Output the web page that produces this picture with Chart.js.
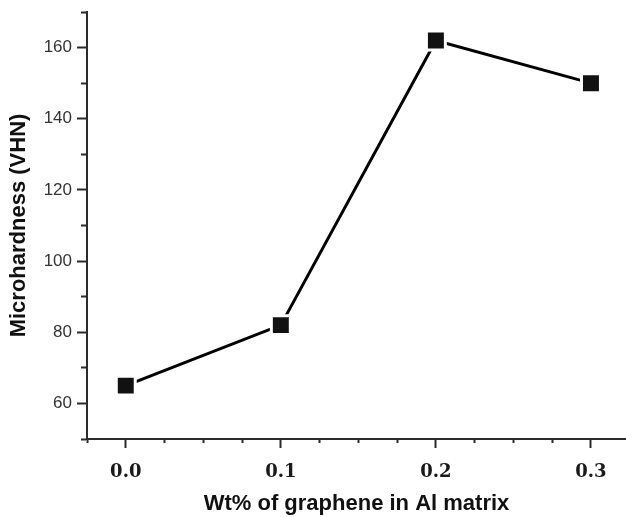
<!DOCTYPE html>
<html>
<head>
<meta charset="utf-8">
<title>Microhardness vs graphene content</title>
<script src="https://cdn.jsdelivr.net/npm/chart.js@4.4.1/dist/chart.umd.min.js"></script>
<style>
    html, body { margin: 0; padding: 0; background: #fff; }
    #wrap { width: 626px; height: 517px; position: relative; }
</style>
</head>
<body>
<div id="wrap"><canvas id="hardnessChart"></canvas></div>
<script>
// Données
const grapheneWt = [0.0, 0.1, 0.2, 0.3];
const microhardness = [65, 82, 162, 150];

// Graduations des axes (majeures avec étiquette, mineures sans)
const xTicks = [-0.025, 0, 0.025, 0.05, 0.075, 0.1, 0.125, 0.15, 0.175, 0.2, 0.225, 0.25, 0.275, 0.3];
const xMajor = [0, 0.1, 0.2, 0.3];
const yTicks = [50, 60, 70, 80, 90, 100, 110, 120, 130, 140, 150, 160, 170];
const yMajor = [60, 80, 100, 120, 140, 160];

const axisColor = '#2b2b2b';

document.addEventListener('DOMContentLoaded', () => {
    const ctx = document.getElementById('hardnessChart').getContext('2d');
    new Chart(ctx, {
        type: 'line',
        data: {
            datasets: [{
                label: 'Microhardness',
                data: grapheneWt.map((x, i) => ({ x: x, y: microhardness[i] })),
                borderColor: '#000',
                borderWidth: 3,
                pointStyle: 'rect',
                pointRadius: 13.4,
                pointBackgroundColor: '#111',
                pointBorderColor: '#fff',
                pointBorderWidth: 3,
                tension: 0,
                fill: false
            }]
        },
        options: {
            responsive: true,
            maintainAspectRatio: false,
            animation: false,
            layout: {
                autoPadding: false,
                padding: { top: 12, right: 0, left: 0, bottom: 0 }
            },
            plugins: {
                legend: { display: false },
                tooltip: { enabled: false }
            },
            scales: {
                x: {
                    type: 'linear',
                    position: 'bottom',
                    min: -0.025,
                    max: 0.3226,
                    afterBuildTicks: (scale) => {
                        scale.ticks = xTicks.map(v => ({ value: v }));
                    },
                    afterFit: (scale) => {
                        scale.height = 78;
                        scale.paddingLeft = 0;
                        scale.paddingRight = 0;
                    },
                    border: { display: true, color: axisColor, width: 2 },
                    grid: {
                        drawOnChartArea: false,
                        drawTicks: true,
                        tickLength: 9,
                        tickWidth: 2,
                        tickColor: axisColor,
                        tickBorderDash: (c) => xMajor.includes(c.tick.value) ? [] : [3, 100]
                    },
                    ticks: {
                        autoSkip: false,
                        maxRotation: 0,
                        padding: 14,
                        color: '#1a1a1a',
                        font: { family: '"DejaVu Serif", serif', size: 18, weight: 'bold' },
                        callback: (value) => xMajor.includes(value) ? value.toFixed(1) : ''
                    },
                    title: {
                        display: true,
                        text: 'Wt% of graphene in Al matrix',
                        color: '#111',
                        font: { family: '"Liberation Sans", Arial, sans-serif', size: 22, weight: 'bold' },
                        padding: { top: 0, bottom: 0 }
                    }
                },
                y: {
                    type: 'linear',
                    position: 'left',
                    min: 50,
                    max: 170,
                    afterBuildTicks: (scale) => {
                        scale.ticks = yTicks.map(v => ({ value: v }));
                    },
                    afterFit: (scale) => {
                        scale.width = 87;
                        scale.paddingTop = 0;
                        scale.paddingBottom = 0;
                    },
                    border: { display: true, color: axisColor, width: 2 },
                    grid: {
                        drawOnChartArea: false,
                        drawTicks: true,
                        tickLength: 10,
                        tickWidth: 2,
                        tickColor: axisColor,
                        tickBorderDash: (c) => yMajor.includes(c.tick.value) ? [] : [0, 4, 6, 100]
                    },
                    ticks: {
                        autoSkip: false,
                        padding: 5,
                        color: '#333',
                        font: { family: '"Liberation Sans", Arial, sans-serif', size: 17 },
                        callback: (value) => yMajor.includes(value) ? String(value) : ''
                    },
                    title: {
                        display: true,
                        text: 'Microhardness (VHN)',
                        color: '#111',
                        font: { family: '"Liberation Sans", Arial, sans-serif', size: 22, weight: 'bold' },
                        padding: { top: 6, bottom: 0 }
                    }
                }
            }
        }
    });
});
</script>
</body>
</html>
